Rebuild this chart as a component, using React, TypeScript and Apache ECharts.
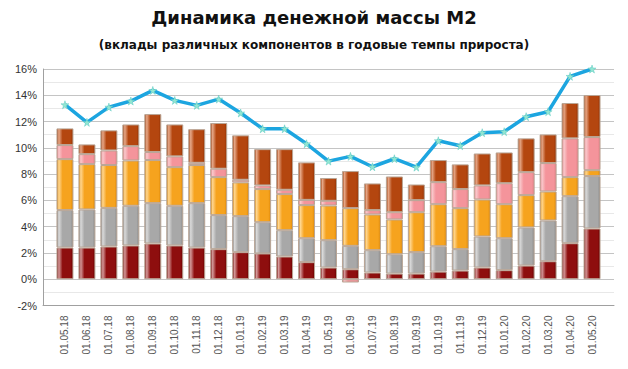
import React, { useEffect, useRef } from "react";
import * as echarts from "echarts";

const categories = [
  "01.05.18", "01.06.18", "01.07.18", "01.08.18", "01.09.18", "01.10.18", "01.11.18", "01.12.18",
  "01.01.19", "01.02.19", "01.03.19", "01.04.19", "01.05.19", "01.06.19", "01.07.19", "01.08.19",
  "01.09.19", "01.10.19", "01.11.19", "01.12.19", "01.01.20", "01.02.20", "01.03.20", "01.04.20", "01.05.20",
];

const seriesRed = [2.41, 2.41, 2.49, 2.57, 2.72, 2.57, 2.41, 2.29, 2.06, 1.96, 1.73, 1.30, 0.89, 0.76, 0.51, 0.43, 0.43, 0.58, 0.66, 0.89, 0.69, 1.04, 1.37, 2.74, 3.86];
const seriesGray = [2.85, 2.90, 2.94, 3.02, 3.07, 3.02, 3.38, 2.59, 2.74, 2.38, 2.00, 1.82, 2.08, 1.78, 1.70, 1.47, 1.63, 1.93, 1.63, 2.36, 2.43, 2.90, 3.10, 3.58, 3.99];
const seriesOrange = [3.88, 3.45, 3.26, 3.45, 3.28, 2.94, 2.90, 2.89, 2.57, 2.52, 2.75, 2.52, 2.64, 2.87, 2.72, 2.65, 3.04, 3.20, 3.12, 2.82, 2.59, 2.46, 2.21, 1.45, 0.45];
const seriesPink = [1.07, 0.76, 1.11, 1.09, 0.61, 0.82, 0.17, 0.64, 0.20, 0.28, 0.33, 0.40, 0.36, -0.25, 0.33, 0.55, 0.92, 1.68, 1.45, 1.07, 1.60, 1.75, 2.16, 2.95, 2.52];
const seriesBrown = [1.27, 0.74, 1.53, 1.65, 2.89, 2.43, 2.56, 3.48, 3.38, 2.76, 3.09, 2.85, 1.73, 2.82, 2.03, 2.72, 1.19, 1.68, 1.88, 2.43, 2.34, 2.57, 2.18, 2.69, 3.20];
const lineM2 = [13.28, 11.94, 13.10, 13.56, 14.37, 13.61, 13.23, 13.71, 12.65, 11.45, 11.45, 10.31, 8.99, 9.35, 8.56, 9.17, 8.53, 10.54, 10.16, 11.15, 11.23, 12.37, 12.75, 15.44, 16.0];

const titleText = "Динамика денежной массы M2";
const subtitleText = "(вклады различных компонентов в годовые темпы прироста)";

const STAR = "path://M50,0 L61,35 L98,35 L68,57 L79,91 L50,70 L21,91 L32,57 L2,35 L39,35 Z";

function grad(edge: string, light: string, base: string, dark: string) {
  return new echarts.graphic.LinearGradient(0, 0, 1, 0, [
    { offset: 0, color: edge },
    { offset: 0.12, color: light },
    { offset: 0.35, color: base },
    { offset: 0.85, color: base },
    { offset: 1, color: dark },
  ]);
}

export default function App() {
  const ref = useRef<HTMLDivElement>(null);
  useEffect(() => {
    if (!ref.current) return;
    const chart = echarts.init(ref.current, undefined, { renderer: "svg" });
    // one empty slot on each side of the category axis, as in the reference
    const axisCats = ["", ...categories, ""];
    const pad = (arr: number[]) => [null, ...arr, null];
    const barBase = {
      type: "bar",
      stack: "m2",
      barWidth: 17,
    };
    const border = { borderColor: "#B9A595", borderWidth: 1 };
    chart.setOption({
      animation: false,
      backgroundColor: "#ffffff",
      title: [
        {
          text: titleText,
          left: "center",
          top: 3,
          textStyle: { fontFamily: "DejaVu Sans", fontWeight: "bold", fontSize: 18, color: "#111" },
        },
        {
          text: subtitleText,
          left: "center",
          top: 34,
          textStyle: { fontFamily: "DejaVu Sans", fontWeight: "bold", fontSize: 12, color: "#111" },
        },
      ],
      grid: { left: 43, right: 14, top: 69, bottom: 63.5, containLabel: false },
      xAxis: {
        type: "category",
        data: axisCats,
        boundaryGap: false,
        axisLine: { show: true, onZero: false, lineStyle: { color: "#A0A0A0" } },
        axisTick: { show: false },
        splitLine: { show: false },
        axisLabel: {
          interval: 0,
          rotate: 90,
          margin: 10,
          fontSize: 10,
          fontFamily: "Liberation Sans",
          color: "#555",
        },
      },
      yAxis: {
        type: "value",
        min: -2,
        max: 16,
        interval: 2,
        axisLine: { show: true, onZero: false, lineStyle: { color: "#A0A0A0" } },
        axisTick: { show: false },
        axisLabel: {
          margin: 6,
          fontSize: 11,
          fontFamily: "Liberation Sans",
          color: "#333",
          formatter: "{value}%",
        },
        splitLine: { show: true, lineStyle: { color: "#C4C4C4", width: 1 } },
        minorTick: { show: false, splitNumber: 2 },
        minorSplitLine: { show: true, lineStyle: { color: "#E8E8E8", width: 1 } },
      },
      series: [
        {
          ...barBase,
          name: "red",
          data: pad(seriesRed),
          itemStyle: { ...border, color: grad("#7A1010", "#D49A9A", "#8E0E0E", "#6A0000") },
        },
        {
          ...barBase,
          name: "gray",
          data: pad(seriesGray),
          itemStyle: { ...border, color: grad("#8A8A8A", "#DADADA", "#A8A8A8", "#8C8C8C") },
        },
        {
          ...barBase,
          name: "orange",
          data: pad(seriesOrange),
          itemStyle: { ...border, color: grad("#D88A10", "#FFD690", "#F6A31E", "#E08A08") },
        },
        {
          ...barBase,
          name: "pink",
          data: pad(seriesPink),
          itemStyle: { ...border, color: grad("#E07F86", "#F9C9CC", "#F4949B", "#E57F87") },
        },
        {
          ...barBase,
          name: "brown",
          data: pad(seriesBrown),
          itemStyle: { ...border, color: grad("#A04010", "#E6A888", "#B4460F", "#973405") },
        },
        {
          type: "line",
          name: "M2",
          data: pad(lineM2),
          z: 5,
          symbol: STAR,
          symbolSize: 8,
          showSymbol: true,
          lineStyle: { color: "#1CA5E0", width: 3.5 },
          itemStyle: { color: "#93E6D2", borderColor: "#5CC8C0", borderWidth: 0.5 },
        },
      ],
    });
    return () => chart.dispose();
  }, []);
  return (
    <div
      ref={ref}
      style={{ position: "fixed", left: 0, top: 0, width: 628, height: 369, background: "#fff" }}
    />
  );
}
